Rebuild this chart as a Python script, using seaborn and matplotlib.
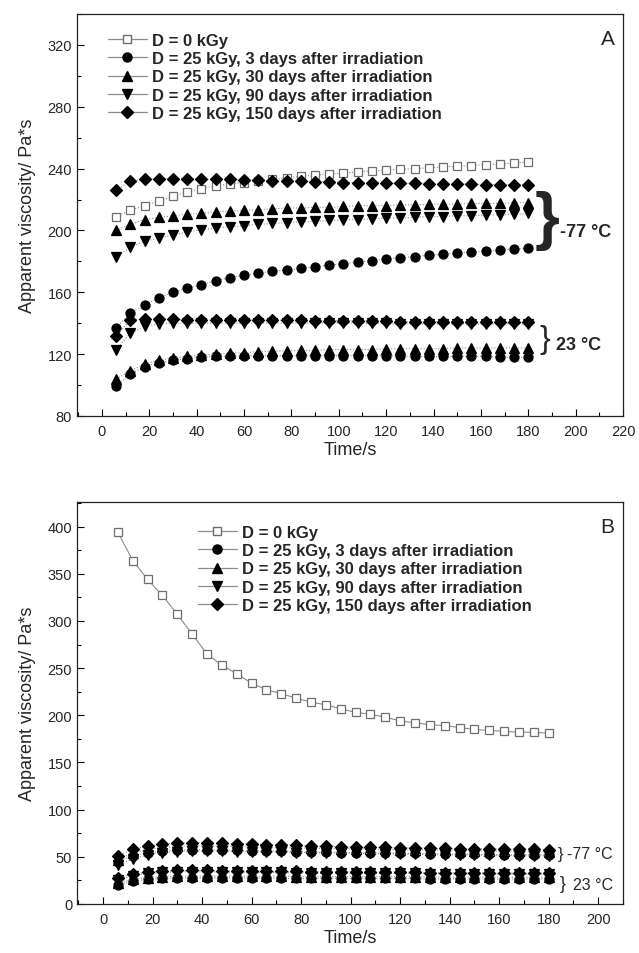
import matplotlib
matplotlib.use("Agg")
import pandas as pd
import matplotlib.pyplot as plt
import seaborn as sns
from matplotlib.lines import Line2D
from matplotlib.ticker import MultipleLocator

# times (s) at which viscosity was read
time_s = list(range(6, 181, 6))

series_labels = [
    "D = 0 kGy",
    "D = 25 kGy, 3 days after irradiation",
    "D = 25 kGy, 30 days after irradiation",
    "D = 25 kGy, 90 days after irradiation",
    "D = 25 kGy, 150 days after irradiation",
]

# ---- panel A ----
a_d0 = [209, 213, 216, 219, 222, 225, 227, 229, 230, 231, 232, 233, 234, 235, 236,
        236.5, 237, 238, 238.5, 239, 239.5, 240, 240.5, 241, 241.5, 242, 242.5, 243, 243.5, 244.5]
# irradiated at -77 C
a_m77_3d = [137, 146.5, 152, 156, 160, 162.5, 165, 167.5, 169.5, 171, 172.5, 173.5, 174.5, 175.5, 176.5,
            177.5, 178.5, 179.5, 180.5, 181.5, 182.5, 183, 184, 184.5, 185.5, 186, 186.5, 187.5, 188, 188.5]
a_m77_30d = [200, 204, 207, 208.5, 209.5, 210.5, 211, 212, 212.5, 213, 213.5, 214, 214.5, 214.5, 215,
             215, 215.5, 216, 216, 216, 216.5, 216.5, 217, 217, 217, 217.5, 217.5, 217.5, 218, 218]
a_m77_90d = [183, 189, 193, 195, 197, 199, 200.5, 201.5, 202.5, 203, 204, 204.5, 205, 205.5, 206,
             206.5, 207, 207, 207.5, 208, 208, 208.5, 209, 209, 209.5, 209.5, 210, 210, 210.5, 211]
a_m77_150d = [226, 232, 233, 233.5, 233.5, 233.5, 233, 233, 233, 232.5, 232.5, 232, 232, 232, 231.5,
              231.5, 231, 231, 231, 230.5, 230.5, 230.5, 230, 230, 230, 230, 229.5, 229.5, 229.5, 229.5]
# irradiated at 23 C
a_23_3d = [99.5, 107, 112, 114.5, 116, 117, 118, 118.5, 118.5, 119, 119, 119, 119, 119, 119,
           119, 119, 119, 119, 119, 119, 118.5, 118.5, 118.5, 118.5, 118.5, 118.5, 118, 118, 118]
a_23_30d = [104, 109, 113.5, 116, 117.5, 118.5, 119.5, 120, 120.5, 121, 121.5, 122, 122, 122.5, 122.5,
            123, 123, 123, 123, 123.5, 123.5, 123.5, 123.5, 123.5, 124, 124, 124, 124, 124, 124]
a_23_90d = [123, 133.5, 138, 139.5, 140, 140, 140, 140, 140, 140, 140, 140, 140, 140, 140,
            140, 140, 140, 140, 140, 139.5, 139.5, 139.5, 139.5, 139.5, 139.5, 139.5, 139.5, 139.5, 139.5]
a_23_150d = [132, 142, 142.5, 142.5, 142.5, 142, 142, 142, 142, 142, 142, 142, 142, 142, 141.5,
             141.5, 141.5, 141.5, 141.5, 141.5, 141, 141, 141, 141, 141, 141, 141, 140.5, 140.5, 140.5]

# ---- panel B ----
b_d0 = [394, 364, 344, 327, 307, 286, 265, 253, 244, 234, 227, 223, 218, 214, 211,
        207, 203, 201, 198, 194, 192, 190, 189, 187, 185, 184, 183, 182, 182, 181]
b_m77_3d = [45, 51, 54, 56, 57, 57.5, 57.5, 57, 57, 56.5, 56, 56, 55.5, 55, 55,
            54.5, 54.5, 54, 54, 53.5, 53.5, 53, 53, 53, 52.5, 52.5, 52, 52, 52, 52]
b_m77_30d = [47, 54, 58, 60, 61, 61.5, 61.5, 61, 61, 60.5, 60, 60, 59.5, 59, 59,
             58.5, 58.5, 58, 58, 57.5, 57.5, 57, 57, 56.5, 56.5, 56, 56, 56, 55.5, 55.5]
b_m77_90d = [41, 48, 52, 54.5, 55.5, 56, 56, 56, 55.5, 55.5, 55, 55, 54.5, 54.5, 54,
             54, 53.5, 53.5, 53, 53, 52.5, 52.5, 52, 52, 52, 51.5, 51.5, 51, 51, 51]
b_m77_150d = [51, 58, 61.5, 63.5, 64.5, 65, 65, 64.5, 64, 63.5, 63, 62.5, 62, 61.5, 61,
              60.5, 60.5, 60, 60, 59.5, 59.5, 59, 59, 58.5, 58.5, 58.5, 58, 58, 58, 57.5]
b_23_3d = [20, 24, 26, 27, 27.5, 27.5, 27.5, 27.5, 27.5, 27.5, 27.5, 27, 27, 27, 27,
           27, 27, 27, 27, 27, 27, 26.5, 26.5, 26.5, 26.5, 26.5, 26.5, 26.5, 26.5, 26.5]
b_23_30d = [22, 26, 28, 29, 29.5, 29.5, 29.5, 29.5, 29.5, 29.5, 29.5, 29.5, 29, 29, 29,
            29, 29, 29, 29, 29, 29, 29, 28.5, 28.5, 28.5, 28.5, 28.5, 28.5, 28.5, 28.5]
b_23_90d = [25, 30, 32.5, 33.5, 34, 34, 34, 34, 33.5, 33.5, 33.5, 33.5, 33, 33, 33,
            33, 32.5, 32.5, 32.5, 32.5, 32.5, 32, 32, 32, 32, 32, 31.5, 31.5, 31.5, 31.5]
b_23_150d = [27, 32, 34, 35, 35.5, 35.5, 35.5, 35, 35, 35, 34.5, 34.5, 34.5, 34, 34,
             34, 34, 33.5, 33.5, 33.5, 33.5, 33, 33, 33, 33, 33, 32.5, 32.5, 32.5, 32.5]

sns.set_theme(style="ticks")
plt.rcParams["font.family"] = ["Liberation Sans", "DejaVu Sans"]

markers = ["s", "o", "^", "v", "D"]
msizes = [6, 6.5, 7, 7, 6]
line_grey = "#8c8c8c"


def draw_series(ax, y, idx, ls=":"):
    df = pd.DataFrame({"time": time_s, "visc": y})
    face = "white" if idx == 0 else "black"
    edge = "#6e6e6e" if idx == 0 else "black"
    sns.lineplot(data=df, x="time", y="visc", ax=ax, color=line_grey, linestyle=ls,
                 linewidth=0.8, marker=markers[idx], markersize=msizes[idx],
                 markerfacecolor=face, markeredgecolor=edge, markeredgewidth=0.9,
                 legend=False)


def style_axes(ax, xmax, xlim, ylim, ymajor, yminor):
    ax.set_xlim(*xlim)
    ax.set_ylim(*ylim)
    ax.xaxis.set_minor_locator(MultipleLocator(10))
    ax.yaxis.set_major_locator(MultipleLocator(ymajor))
    ax.yaxis.set_minor_locator(MultipleLocator(yminor))
    ax.set_xticks([t for t in range(0, xmax + 1, 20)])
    ax.tick_params(which="both", direction="in", top=False, right=False,
                   labelsize=10.5, width=0.8, color="black")
    ax.tick_params(which="major", length=5)
    ax.tick_params(which="minor", length=3)
    ax.tick_params(axis="x", pad=6)
    for sp in ax.spines.values():
        sp.set_visible(True)
        sp.set_linewidth(0.9)
        sp.set_color("#222222")
    ax.set_xlabel("Time/s", fontsize=13, labelpad=2)
    ax.set_ylabel("Apparent viscosity/ Pa*s", fontsize=13, labelpad=8)


def add_legend(ax, anchor):
    handles = []
    for i in range(5):
        face = "white" if i == 0 else "black"
        edge = "#6e6e6e" if i == 0 else "black"
        handles.append(Line2D([0], [0], color=line_grey, lw=0.9, marker=markers[i],
                              markersize=msizes[i], markerfacecolor=face,
                              markeredgecolor=edge))
    ax.legend(handles, series_labels, loc="upper left", bbox_to_anchor=anchor,
              frameon=False, handlelength=2.3, handletextpad=0.35, labelspacing=0.2,
              borderaxespad=0, prop={"weight": "bold", "size": 12})


fig = plt.figure(figsize=(6.39, 9.54), dpi=100)
ax_a = fig.add_axes([0.1205, 0.5629, 0.8545, 0.4214])
ax_b = fig.add_axes([0.1205, 0.0514, 0.8545, 0.4213])

# panel A
draw_series(ax_a, a_d0, 0)
for idx, ys in enumerate([a_m77_3d, a_m77_30d, a_m77_90d, a_m77_150d], start=1):
    draw_series(ax_a, ys, idx)
for idx, ys in enumerate([a_23_3d, a_23_30d, a_23_90d, a_23_150d], start=1):
    draw_series(ax_a, ys, idx)
style_axes(ax_a, 220, (-10.5, 220), (80, 340), 40, 20)
add_legend(ax_a, (0.045, 0.97))
ax_a.text(0.972, 0.94, "A", transform=ax_a.transAxes, fontsize=15, ha="center", va="center")
ax_a.text(188, 207, "}", fontsize=46, fontweight="bold", ha="center", va="center")
ax_a.text(193.5, 199, "-77 °C", fontsize=13, fontweight="bold", ha="left", va="center")
ax_a.text(187, 130, "}", fontsize=23, ha="center", va="center")
ax_a.text(191.5, 126.5, "23 °C", fontsize=13, fontweight="bold", ha="left", va="center")

# panel B
draw_series(ax_b, b_d0, 0, ls="-")
for idx, ys in enumerate([b_m77_3d, b_m77_30d, b_m77_90d, b_m77_150d], start=1):
    draw_series(ax_b, ys, idx)
for idx, ys in enumerate([b_23_3d, b_23_30d, b_23_90d, b_23_150d], start=1):
    draw_series(ax_b, ys, idx)
style_axes(ax_b, 200, (-10.5, 210), (0, 426), 50, 25)
add_legend(ax_b, (0.21, 0.96))
ax_b.text(0.972, 0.94, "B", transform=ax_b.transAxes, fontsize=15, ha="center", va="center")
ax_b.text(184.6, 54, "}", fontsize=12, ha="center", va="center")
ax_b.text(187.4, 53, "-77 °C", fontsize=11.5, ha="left", va="center")
ax_b.text(185.5, 22, "}", fontsize=13, ha="center", va="center")
ax_b.text(190, 21, "23 °C", fontsize=11.5, ha="left", va="center")

fig.savefig("out.png", dpi=100)
